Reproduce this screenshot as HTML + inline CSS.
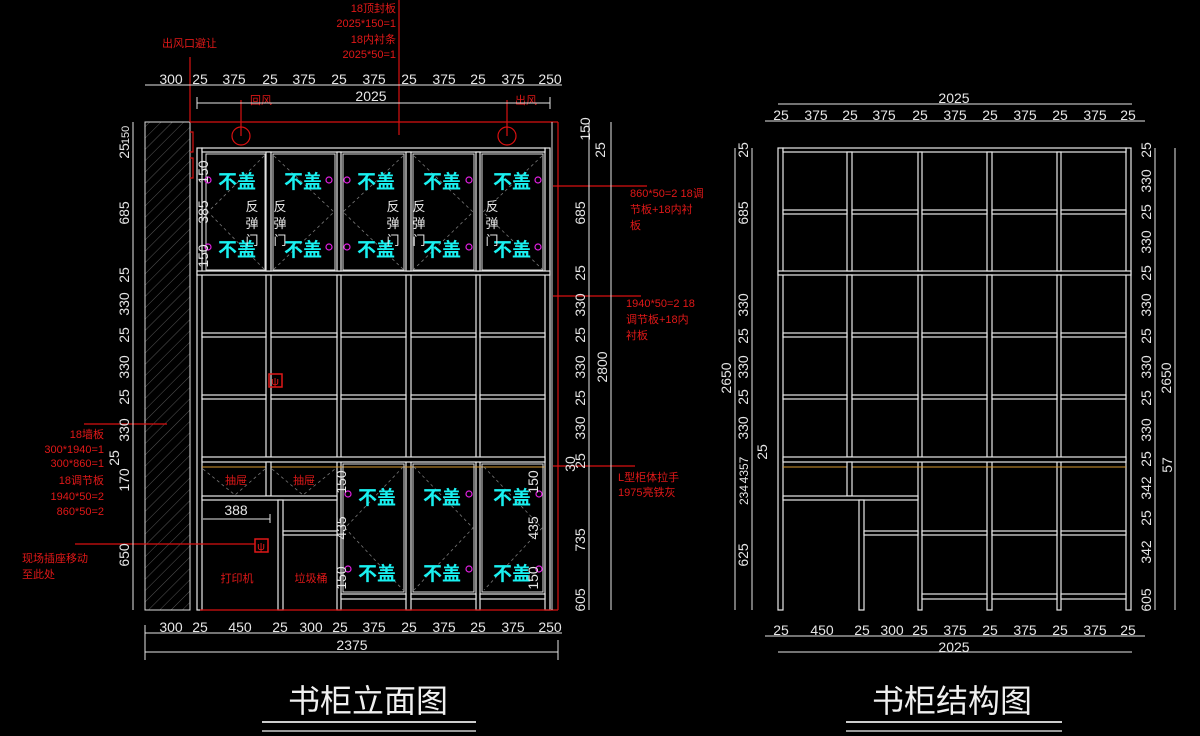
<!DOCTYPE html>
<html><head><meta charset="utf-8">
<style>
html,body{margin:0;padding:0;background:#000;}
svg{display:block}
.p{fill:#000;stroke:#e8e8e8;stroke-width:1.2}
.d{font-family:"Liberation Sans","Noto Sans CJK SC",sans-serif;font-size:14px;fill:#e6e6e6}
.r{font-family:"Liberation Sans","Noto Sans CJK SC",sans-serif;font-size:11px;fill:#e01818}
.c{font-family:"Noto Sans CJK SC",sans-serif;font-size:19px;font-weight:bold;fill:#19f0f0}
.w{font-family:"Noto Sans CJK SC",sans-serif;font-size:13px;fill:#e6e6e6}
.dl{stroke:#e6e6e6;stroke-width:1;fill:none}
.rl{stroke:#d81010;stroke-width:1.2;fill:none}
.dash{stroke:#777;stroke-width:0.8;stroke-dasharray:3 3;fill:none}
.pk{fill:none;stroke:#e020e0;stroke-width:1.2}
</style></head><body>
<svg width="1200" height="736" viewBox="0 0 1200 736" xmlns="http://www.w3.org/2000/svg">
<defs>
<pattern id="hat" width="8" height="8" patternUnits="userSpaceOnUse" patternTransform="rotate(45)">
<line x1="0" y1="0" x2="0" y2="8" stroke="#555" stroke-width="1"/>
</pattern>
<g id="core">
 <rect class="p" x="197" y="148" width="5" height="462"/>
 <rect class="p" x="545" y="148" width="5" height="462"/>
 <rect class="p" x="202" y="148" width="343" height="4"/>
 <rect class="p" x="197" y="271" width="353" height="4"/>
 <!-- upper posts -->
 <rect class="p" x="266" y="152" width="5" height="119"/>
 <rect class="p" x="337" y="152" width="4" height="119"/>
 <rect class="p" x="406" y="152" width="5" height="119"/>
 <rect class="p" x="476" y="152" width="4" height="119"/>
 <!-- middle posts -->
 <rect class="p" x="266" y="275" width="5" height="182"/>
 <rect class="p" x="337" y="275" width="4" height="335"/>
 <rect class="p" x="406" y="275" width="5" height="335"/>
 <rect class="p" x="476" y="275" width="4" height="335"/>
 <!-- shelves -->
 <g>
 <rect class="p" x="202" y="333" width="64" height="4"/><rect class="p" x="271" y="333" width="66" height="4"/><rect class="p" x="341" y="333" width="65" height="4"/><rect class="p" x="411" y="333" width="65" height="4"/><rect class="p" x="480" y="333" width="65" height="4"/>
 <rect class="p" x="202" y="395" width="64" height="4"/><rect class="p" x="271" y="395" width="66" height="4"/><rect class="p" x="341" y="395" width="65" height="4"/><rect class="p" x="411" y="395" width="65" height="4"/><rect class="p" x="480" y="395" width="65" height="4"/>
 </g>
 <rect class="p" x="202" y="457" width="343" height="5"/>
 <line x1="202" y1="467" x2="545" y2="467" stroke="#d89a30" stroke-width="1"/>
 <!-- lower left -->
 <rect class="p" x="266" y="462" width="5" height="34"/>
 <rect class="p" x="202" y="496" width="135" height="4"/>
 <rect class="p" x="278" y="500" width="5" height="110"/>
 <rect class="p" x="283" y="531" width="54" height="4"/>
 <rect class="p" x="341" y="594" width="65" height="5"/><rect class="p" x="411" y="594" width="65" height="5"/><rect class="p" x="480" y="594" width="65" height="5"/>
</g>
</defs>
<rect width="1200" height="736" fill="#000"/>

<!-- ============ LEFT DRAWING ============ -->
<rect x="145" y="122" width="45" height="488" fill="url(#hat)" stroke="#ddd" stroke-width="1"/>
<line x1="190" y1="122" x2="190" y2="610" stroke="#ddd"/>
<use href="#core"/>
<!-- red frame -->
<line class="rl" x1="190" y1="122" x2="558" y2="122"/>
<line class="rl" x1="558" y1="122" x2="558" y2="610"/>
<line class="rl" x1="200" y1="610" x2="558" y2="610"/>
<line x1="552" y1="122" x2="552" y2="610" stroke="#ddd"/>
<circle class="rl" cx="241" cy="136" r="9"/>
<circle class="rl" cx="507" cy="136" r="9"/>
<line class="rl" x1="241" y1="100" x2="241" y2="136"/>
<line class="rl" x1="507" y1="100" x2="507" y2="136"/>
<text class="r" x="250" y="104">回风</text>
<text class="r" x="515" y="104">出风</text>
<line class="rl" x1="399" y1="0" x2="399" y2="135"/>
<line class="rl" x1="190" y1="57" x2="190" y2="122"/>
<path class="rl" d="M190 132 h3 v20 h-3 M190 158 h3 v20 h-3"/>
<text class="r" x="162" y="47">出风口避让</text>
<g class="r" text-anchor="end">
<text x="396" y="12">18顶封板</text>
<text x="396" y="27">2025*150=1</text>
<text x="396" y="43">18内衬条</text>
<text x="396" y="58">2025*50=1</text>
</g>

<!-- upper doors -->
<g>
 <rect x="206" y="154" width="59" height="116" fill="none" stroke="#ddd" stroke-width="1"/>
 <rect x="273" y="154" width="62" height="116" fill="none" stroke="#ddd" stroke-width="1"/>
 <rect x="343" y="154" width="61" height="116" fill="none" stroke="#ddd" stroke-width="1"/>
 <rect x="413" y="154" width="61" height="116" fill="none" stroke="#ddd" stroke-width="1"/>
 <rect x="482" y="154" width="61" height="116" fill="none" stroke="#ddd" stroke-width="1"/>
 <path class="dash" d="M264 156 L208 212 L264 269 M274 156 L334 212 L274 269 M403 156 L343 212 L403 269 M414 156 L473 212 L414 269 M542 156 L483 212 L542 269"/>
</g>
<g class="c" text-anchor="middle">
 <text x="237" y="188">不盖</text><text x="303" y="188">不盖</text><text x="376" y="188">不盖</text><text x="442" y="188">不盖</text><text x="512" y="188">不盖</text>
 <text x="237" y="256">不盖</text><text x="303" y="256">不盖</text><text x="376" y="256">不盖</text><text x="442" y="256">不盖</text><text x="512" y="256">不盖</text>
</g>
<g class="pk">
 <circle cx="208" cy="180" r="3"/><circle cx="329" cy="180" r="3"/><circle cx="347" cy="180" r="3"/><circle cx="469" cy="180" r="3"/><circle cx="538" cy="180" r="3"/>
 <circle cx="208" cy="247" r="3"/><circle cx="329" cy="247" r="3"/><circle cx="347" cy="247" r="3"/><circle cx="469" cy="247" r="3"/><circle cx="538" cy="247" r="3"/>
</g>
<g class="w" text-anchor="middle">
 <text x="252" y="211">反</text><text x="252" y="228">弹</text><text x="252" y="245">门</text>
 <text x="280" y="211">反</text><text x="280" y="228">弹</text><text x="280" y="245">门</text>
 <text x="393" y="211">反</text><text x="393" y="228">弹</text><text x="393" y="245">门</text>
 <text x="419" y="211">反</text><text x="419" y="228">弹</text><text x="419" y="245">门</text>
 <text x="492" y="211">反</text><text x="492" y="228">弹</text><text x="492" y="245">门</text>
</g>
<g class="d" font-size="12">
 <text transform="translate(208,172) rotate(-90)" text-anchor="middle">150</text>
 <text transform="translate(208,212) rotate(-90)" text-anchor="middle">385</text>
 <text transform="translate(208,256) rotate(-90)" text-anchor="middle">150</text>
</g>

<!-- lower doors -->
<rect x="343" y="464" width="61" height="128" fill="none" stroke="#ddd" stroke-width="1"/>
<rect x="413" y="464" width="61" height="128" fill="none" stroke="#ddd" stroke-width="1"/>
<rect x="482" y="464" width="61" height="128" fill="none" stroke="#ddd" stroke-width="1"/>
<path class="dash" d="M403 467 L345 528 L403 590 M414 467 L473 528 L414 590 M484 467 L542 528 L484 590"/>
<path class="dash" d="M203 469 L235 495 L265 469 M272 469 L303 495 L335 469"/>
<g class="c" text-anchor="middle">
 <text x="377" y="504">不盖</text><text x="442" y="504">不盖</text><text x="512" y="504">不盖</text>
 <text x="377" y="580">不盖</text><text x="442" y="580">不盖</text><text x="512" y="580">不盖</text>
</g>
<g class="pk">
 <circle cx="348" cy="494" r="3"/><circle cx="469" cy="494" r="3"/><circle cx="539" cy="494" r="3"/>
 <circle cx="348" cy="569" r="3"/><circle cx="469" cy="569" r="3"/><circle cx="539" cy="569" r="3"/>
</g>
<g class="d" font-size="12" text-anchor="middle">
 <text transform="translate(346,482) rotate(-90)">150</text>
 <text transform="translate(346,528) rotate(-90)">435</text>
 <text transform="translate(346,578) rotate(-90)">150</text>
 <text transform="translate(538,482) rotate(-90)">150</text>
 <text transform="translate(538,528) rotate(-90)">435</text>
 <text transform="translate(538,578) rotate(-90)">150</text>
</g>
<g class="r" font-size="12" text-anchor="middle">
 <text x="236" y="484">抽屉</text><text x="304" y="484">抽屉</text>
 <text x="237" y="582">打印机</text><text x="311" y="582">垃圾桶</text>
</g>
<line class="dl" x1="203" y1="519" x2="270" y2="519"/>
<line class="dl" x1="270" y1="514" x2="270" y2="523"/>
<text class="d" x="236" y="515" text-anchor="middle">388</text>
<rect x="255" y="539" width="13" height="13" fill="none" stroke="#e01818" stroke-width="1.5"/>
<rect x="269" y="374" width="13" height="13" fill="none" stroke="#e01818" stroke-width="1.5"/>
<text class="r" x="261" y="550" font-size="9" text-anchor="middle">ψ</text>
<text class="r" x="275" y="385" font-size="9" text-anchor="middle">ψ</text>

<!-- left annotations -->
<line class="rl" x1="84" y1="424" x2="167" y2="424"/>
<g class="r" text-anchor="end" font-size="11">
 <text x="104" y="438">18墙板</text>
 <text x="104" y="453">300*1940=1</text>
 <text x="104" y="467">300*860=1</text>
 <text x="104" y="484">18调节板</text>
 <text x="104" y="500">1940*50=2</text>
 <text x="104" y="515">860*50=2</text>
</g>
<line class="rl" x1="75" y1="544" x2="255" y2="544"/>
<text class="r" x="22" y="562">现场插座移动</text>
<text class="r" x="22" y="578">至此处</text>

<!-- right annotations -->
<line class="rl" x1="553" y1="186" x2="647" y2="186"/>
<g class="r"><text x="630" y="197">860*50=2 18调</text><text x="630" y="213">节板+18内衬</text><text x="630" y="229">板</text></g>
<line class="rl" x1="553" y1="296" x2="641" y2="296"/>
<g class="r"><text x="626" y="307">1940*50=2 18</text><text x="626" y="323">调节板+18内</text><text x="626" y="339">衬板</text></g>
<line class="rl" x1="553" y1="466" x2="635" y2="466"/>
<g class="r"><text x="618" y="481">L型柜体拉手</text><text x="618" y="496">1975亮铁灰</text></g>

<!-- left drawing dimensions -->
<line class="dl" x1="145" y1="85" x2="562" y2="85"/>
<g class="d" text-anchor="middle">
 <text x="171" y="84">300</text><text x="200" y="84">25</text><text x="234" y="84">375</text><text x="270" y="84">25</text><text x="304" y="84">375</text><text x="339" y="84">25</text><text x="374" y="84">375</text><text x="409" y="84">25</text><text x="444" y="84">375</text><text x="478" y="84">25</text><text x="513" y="84">375</text><text x="550" y="84">250</text>
</g>
<line class="dl" x1="197" y1="103" x2="550" y2="103"/>
<text class="d" x="371" y="101" text-anchor="middle">2025</text>
<line class="dl" x1="145" y1="633" x2="562" y2="633"/>
<g class="d" text-anchor="middle">
 <text x="171" y="632">300</text><text x="200" y="632">25</text><text x="240" y="632">450</text><text x="280" y="632">25</text><text x="311" y="632">300</text><text x="340" y="632">25</text><text x="374" y="632">375</text><text x="409" y="632">25</text><text x="444" y="632">375</text><text x="478" y="632">25</text><text x="513" y="632">375</text><text x="550" y="632">250</text>
</g>
<line class="dl" x1="145" y1="652" x2="558" y2="652"/>
<text class="d" x="352" y="650" text-anchor="middle">2375</text>
<g class="dl"><line x1="145" y1="625" x2="145" y2="660"/><line x1="558" y1="640" x2="558" y2="660"/><line x1="197" y1="97" x2="197" y2="109"/><line x1="550" y1="97" x2="550" y2="109"/></g>

<line class="dl" x1="133" y1="122" x2="133" y2="610"/>
<g class="d" text-anchor="middle">
 <text transform="translate(129,135) rotate(-90)" font-size="11">150</text>
 <text transform="translate(129,151) rotate(-90)">25</text>
 <text transform="translate(129,213) rotate(-90)">685</text>
 <text transform="translate(129,275) rotate(-90)">25</text>
 <text transform="translate(129,304) rotate(-90)">330</text>
 <text transform="translate(129,335) rotate(-90)">25</text>
 <text transform="translate(129,367) rotate(-90)">330</text>
 <text transform="translate(129,397) rotate(-90)">25</text>
 <text transform="translate(129,430) rotate(-90)">330</text>
 <text transform="translate(119,458) rotate(-90)">25</text>
 <text transform="translate(129,480) rotate(-90)">170</text>
 <text transform="translate(129,555) rotate(-90)">650</text>
</g>
<line class="dl" x1="589" y1="122" x2="589" y2="610"/>
<line class="dl" x1="611" y1="122" x2="611" y2="610"/>
<g class="d" text-anchor="middle">
 <text transform="translate(590,129) rotate(-90)">150</text>
 <text transform="translate(605,150) rotate(-90)">25</text>
 <text transform="translate(585,213) rotate(-90)">685</text>
 <text transform="translate(585,273) rotate(-90)">25</text>
 <text transform="translate(585,305) rotate(-90)">330</text>
 <text transform="translate(585,335) rotate(-90)">25</text>
 <text transform="translate(585,367) rotate(-90)">330</text>
 <text transform="translate(585,398) rotate(-90)">25</text>
 <text transform="translate(585,428) rotate(-90)">330</text>
 <text transform="translate(585,461) rotate(-90)">25</text>
 <text transform="translate(575,464) rotate(-90)">30</text>
 <text transform="translate(585,540) rotate(-90)">735</text>
 <text transform="translate(585,600) rotate(-90)">605</text>
 <text transform="translate(607,367) rotate(-90)">2800</text>
</g>

<!-- ============ RIGHT DRAWING ============ -->
<g transform="translate(581,0)">
 <use href="#core"/>
 <rect class="p" x="202" y="210" width="64" height="4"/><rect class="p" x="271" y="210" width="66" height="4"/><rect class="p" x="341" y="210" width="65" height="4"/><rect class="p" x="411" y="210" width="65" height="4"/><rect class="p" x="480" y="210" width="65" height="4"/>
 <rect class="p" x="341" y="531" width="65" height="4"/><rect class="p" x="411" y="531" width="65" height="4"/><rect class="p" x="480" y="531" width="65" height="4"/>
</g>
<line class="dl" x1="778" y1="104" x2="1132" y2="104"/>
<text class="d" x="954" y="103" text-anchor="middle">2025</text>
<line class="dl" x1="765" y1="121" x2="1145" y2="121"/>
<g class="d" text-anchor="middle">
 <text x="781" y="120">25</text><text x="816" y="120">375</text><text x="850" y="120">25</text><text x="884" y="120">375</text><text x="920" y="120">25</text><text x="955" y="120">375</text><text x="990" y="120">25</text><text x="1025" y="120">375</text><text x="1060" y="120">25</text><text x="1095" y="120">375</text><text x="1128" y="120">25</text>
</g>
<line class="dl" x1="765" y1="636" x2="1145" y2="636"/>
<g class="d" text-anchor="middle">
 <text x="781" y="635">25</text><text x="822" y="635">450</text><text x="862" y="635">25</text><text x="892" y="635">300</text><text x="920" y="635">25</text><text x="955" y="635">375</text><text x="990" y="635">25</text><text x="1025" y="635">375</text><text x="1060" y="635">25</text><text x="1095" y="635">375</text><text x="1128" y="635">25</text>
</g>
<line class="dl" x1="778" y1="652" x2="1132" y2="652"/>
<text class="d" x="954" y="652" text-anchor="middle">2025</text>

<line class="dl" x1="735" y1="148" x2="735" y2="610"/>
<line class="dl" x1="752" y1="148" x2="752" y2="610"/>
<g class="d" text-anchor="middle">
 <text transform="translate(731,378) rotate(-90)">2650</text>
 <text transform="translate(748,150) rotate(-90)">25</text>
 <text transform="translate(748,213) rotate(-90)">685</text>
 <text transform="translate(748,305) rotate(-90)">330</text>
 <text transform="translate(748,336) rotate(-90)">25</text>
 <text transform="translate(748,367) rotate(-90)">330</text>
 <text transform="translate(748,397) rotate(-90)">25</text>
 <text transform="translate(748,428) rotate(-90)">330</text>
 <text transform="translate(767,452) rotate(-90)">25</text>
 <text transform="translate(748,470) rotate(-90)" font-size="12">4357</text>
 <text transform="translate(748,495) rotate(-90)" font-size="12">234</text>
 <text transform="translate(748,555) rotate(-90)">625</text>
</g>
<line class="dl" x1="1155" y1="148" x2="1155" y2="610"/>
<line class="dl" x1="1175" y1="148" x2="1175" y2="610"/>
<g class="d" text-anchor="middle">
 <text transform="translate(1151,150) rotate(-90)">25</text>
 <text transform="translate(1151,181) rotate(-90)">330</text>
 <text transform="translate(1151,212) rotate(-90)">25</text>
 <text transform="translate(1151,242) rotate(-90)">330</text>
 <text transform="translate(1151,273) rotate(-90)">25</text>
 <text transform="translate(1151,305) rotate(-90)">330</text>
 <text transform="translate(1151,336) rotate(-90)">25</text>
 <text transform="translate(1151,367) rotate(-90)">330</text>
 <text transform="translate(1151,398) rotate(-90)">25</text>
 <text transform="translate(1151,430) rotate(-90)">330</text>
 <text transform="translate(1151,459) rotate(-90)">25</text>
 <text transform="translate(1172,465) rotate(-90)">57</text>
 <text transform="translate(1151,488) rotate(-90)">342</text>
 <text transform="translate(1151,518) rotate(-90)">25</text>
 <text transform="translate(1151,552) rotate(-90)">342</text>
 <text transform="translate(1151,600) rotate(-90)">605</text>
 <text transform="translate(1171,378) rotate(-90)">2650</text>
</g>

<!-- titles -->
<text x="368" y="712" text-anchor="middle" font-family="'Noto Sans CJK SC',sans-serif" font-size="32" fill="#f0f0f0">书柜立面图</text>
<line x1="262" y1="722" x2="476" y2="722" stroke="#ccc" stroke-width="2"/>
<line x1="262" y1="731" x2="476" y2="731" stroke="#ccc" stroke-width="1.5"/>
<text x="952" y="712" text-anchor="middle" font-family="'Noto Sans CJK SC',sans-serif" font-size="32" fill="#f0f0f0">书柜结构图</text>
<line x1="846" y1="722" x2="1062" y2="722" stroke="#ccc" stroke-width="2"/>
<line x1="846" y1="731" x2="1062" y2="731" stroke="#ccc" stroke-width="1.5"/>
</svg>
</body></html>
